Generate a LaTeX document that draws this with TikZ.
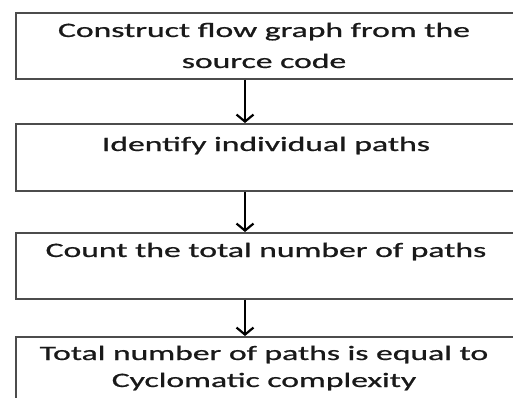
\documentclass[tikz,border=0pt]{standalone}
\usepackage{fontspec}
\setmainfont{Carlito}
\newfontfamily\boxfont[FakeBold=0.7]{Carlito}
\usetikzlibrary{arrows.meta}
\newcommand{\wl}[1]{\scalebox{1.64}[1]{#1}}
\tikzset{
  box/.style={draw=black!70, line width=1.7pt, fill=white, minimum width=520pt, anchor=north west, inner sep=0pt},
  txt/.style={font=\boxfont\fontsize{20.5}{20.5}\selectfont, text=black!90, inner sep=0pt, anchor=base},
  flow/.style={draw=black, line width=2.2pt, -{Straight Barb[length=7pt,width=17pt,line width=2.2pt]}}
}
\begin{document}
\begin{tikzpicture}[x=1pt,y=-1pt]
\useasboundingbox (0,0) rectangle (513,398);
\clip (0,0) rectangle (513,398);
\node[box, minimum height=66pt] (b1) at (15,12) {};
\node[box, minimum height=67pt] (b2) at (15,123) {};
\node[box, minimum height=66pt] (b3) at (15,232) {};
\node[box, minimum height=80pt] (b4) at (15,336) {};
\node[txt] (t1a) at (264,37) {\wl{Construct flow graph from the}};
\node[txt] (t1b) at (264,68) {\wl{source code}};
\node[txt] (t2) at (266,151) {\wl{Identify individual paths}};
\node[txt] (t3) at (266,257) {\wl{Count the total number of paths}};
\node[txt] (t4a) at (264,360) {\wl{Total number of paths is equal to}};
\node[txt] (t4b) at (264,387) {\wl{Cyclomatic complexity}};
\coordinate (a1s) at (245,78);
\coordinate (a1e) at (245,122);
\coordinate (a2s) at (245,190);
\coordinate (a2e) at (245,231);
\coordinate (a3s) at (245,298);
\coordinate (a3e) at (245,335);
\draw[flow] (a1s |- b1.south) -- (a1e |- b2.north);
\draw[flow] (a2s |- b2.south) -- (a2e |- b3.north);
\draw[flow] (a3s |- b3.south) -- (a3e |- b4.north);
\end{tikzpicture}
\end{document}
